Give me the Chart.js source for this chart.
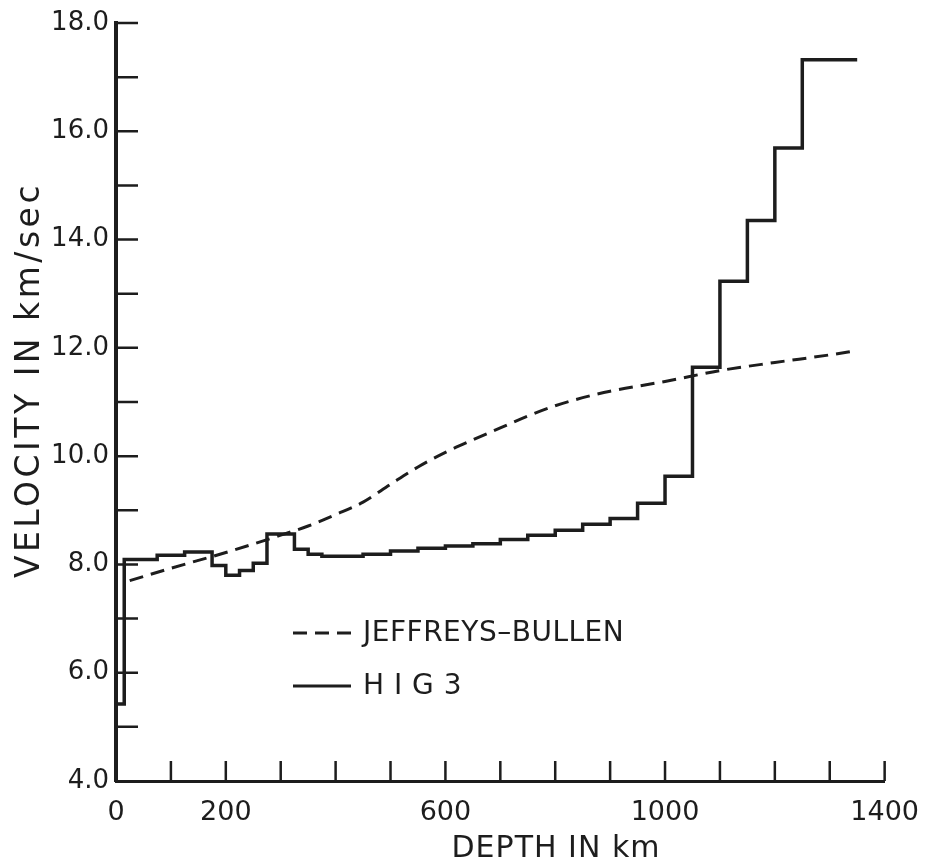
<!DOCTYPE html>
<html>
<head>
<meta charset="utf-8">
<title>Velocity vs depth</title>
<script src="https://cdn.jsdelivr.net/npm/chart.js@4.4.1/dist/chart.umd.min.js"></script>
<style>
  html, body { margin: 0; padding: 0; background: #fff; }
  canvas { display: block; }
</style>
</head>
<body>
<canvas id="velocityChart" width="935" height="864"></canvas>
<script>
// Jeffreys-Bullen P velocity (km/sec) against depth (km)
const jbDepth = [25, 100, 200, 300, 350, 400, 450, 500, 550, 600, 650, 700, 750, 800, 850, 900, 1000, 1100, 1200, 1300, 1350];
const jbVel   = [7.70, 7.93, 8.22, 8.54, 8.71, 8.92, 9.15, 9.48, 9.80, 10.07, 10.30, 10.52, 10.74, 10.93, 11.08, 11.20, 11.38, 11.58, 11.73, 11.87, 11.95];

// HIG3 layered model: each velocity holds from its depth to the next one
const hig3Depth = [0, 15, 75, 125, 175, 200, 225, 250, 275, 325, 350, 375, 450, 500, 550, 600, 650, 700, 750, 800, 850, 900, 950, 1000, 1050, 1100, 1150, 1200, 1250, 1350];
const hig3Vel   = [5.42, 8.09, 8.17, 8.23, 7.98, 7.80, 7.89, 8.02, 8.56, 8.28, 8.19, 8.15, 8.19, 8.25, 8.30, 8.34, 8.38, 8.46, 8.54, 8.63, 8.74, 8.85, 9.13, 9.63, 11.64, 13.23, 14.35, 15.69, 17.32, 17.32];

// axis labels
const xTickLabels = [0, 200, 600, 1000, 1400];
const yTickLabels = [4, 6, 8, 10, 12, 14, 16, 18];

const ink = '#1d1d1d';
const font = 'DejaVu Sans';

function toPoints(xs, ys) {
    return xs.map((x, i) => ({ x: x, y: ys[i] }));
}

// tick marks point into the plot, plus the axis titles and the key
const paperDecor = {
    id: 'paperDecor',
    afterDatasetsDraw(chart) {
        const { ctx, chartArea, scales: { x, y } } = chart;
        ctx.save();
        ctx.strokeStyle = ink;
        ctx.fillStyle = ink;
        ctx.lineWidth = 2.5;
        ctx.beginPath();
        for (let d = 100; d <= 1400; d += 100) {
            const px = x.getPixelForValue(d);
            ctx.moveTo(px, chartArea.bottom);
            ctx.lineTo(px, chartArea.bottom - 20);
        }
        for (let v = 5; v <= 18; v++) {
            const py = y.getPixelForValue(v);
            ctx.moveTo(chartArea.left, py);
            ctx.lineTo(chartArea.left + 22, py);
        }
        ctx.stroke();

        // axis titles
        ctx.font = '30px "' + font + '"';
        ctx.letterSpacing = '1px';
        ctx.textAlign = 'center';
        ctx.textBaseline = 'alphabetic';
        ctx.fillText('DEPTH IN km', 556, 857);

        ctx.save();
        ctx.translate(39, 380);
        ctx.rotate(-Math.PI / 2);
        ctx.font = '33px "' + font + '"';
        ctx.letterSpacing = '3.5px';
        ctx.fillText('VELOCITY IN km/sec', 0, 0);
        ctx.restore();

        // key
        const kx = chartArea.left + 177;
        const ky1 = 633, ky2 = 686;
        ctx.lineWidth = 3;
        ctx.setLineDash([14, 8]);
        ctx.beginPath();
        ctx.moveTo(kx, ky1);
        ctx.lineTo(kx + 58, ky1);
        ctx.stroke();
        ctx.setLineDash([]);
        ctx.beginPath();
        ctx.moveTo(kx, ky2);
        ctx.lineTo(kx + 58, ky2);
        ctx.stroke();

        ctx.font = '28px "' + font + '"';
        ctx.letterSpacing = '0.5px';
        ctx.textAlign = 'left';
        ctx.textBaseline = 'middle';
        ctx.fillText('JEFFREYS\u2013BULLEN', kx + 70, ky1 + 1);
        ctx.fillText('H I G 3', kx + 70, ky2 + 1);
        ctx.restore();
    }
};

const ctx = document.getElementById('velocityChart').getContext('2d');

new Chart(ctx, {
    type: 'line',
    data: {
        datasets: [{
            label: 'JEFFREYS\u2013BULLEN',
            data: toPoints(jbDepth, jbVel),
            borderColor: ink,
            borderWidth: 3,
            borderDash: [14, 8],
            pointRadius: 0,
            cubicInterpolationMode: 'monotone',
            fill: false
        }, {
            label: 'H I G 3',
            data: toPoints(hig3Depth, hig3Vel),
            borderColor: ink,
            borderWidth: 3.5,
            stepped: 'before',
            pointRadius: 0,
            fill: false
        }]
    },
    options: {
        responsive: false,
        animation: false,
        layout: {
            padding: { top: 23, right: 44, left: 0, bottom: 0 }
        },
        plugins: {
            legend: { display: false },
            tooltip: { enabled: false }
        },
        scales: {
            x: {
                type: 'linear',
                min: 0,
                max: 1400,
                grid: { display: false, drawTicks: false },
                border: { display: true, color: ink, width: 3 },
                ticks: {
                    stepSize: 100,
                    autoSkip: false,
                    maxRotation: 0,
                    padding: 16,
                    color: ink,
                    font: { family: font, size: 27 },
                    callback: v => xTickLabels.includes(v) ? String(v) : ''
                },
                afterFit: scale => { scale.height = 83; }
            },
            y: {
                type: 'linear',
                min: 4,
                max: 18,
                grid: { display: false, drawTicks: false },
                border: { display: true, color: ink, width: 4 },
                ticks: {
                    stepSize: 1,
                    autoSkip: false,
                    padding: 7,
                    color: ink,
                    font: { family: font, size: 26 },
                    callback: v => yTickLabels.includes(v) ? v.toFixed(1) : ''
                },
                afterFit: scale => { scale.width = 116; }
            }
        }
    },
    plugins: [paperDecor]
});
</script>
</body>
</html>
